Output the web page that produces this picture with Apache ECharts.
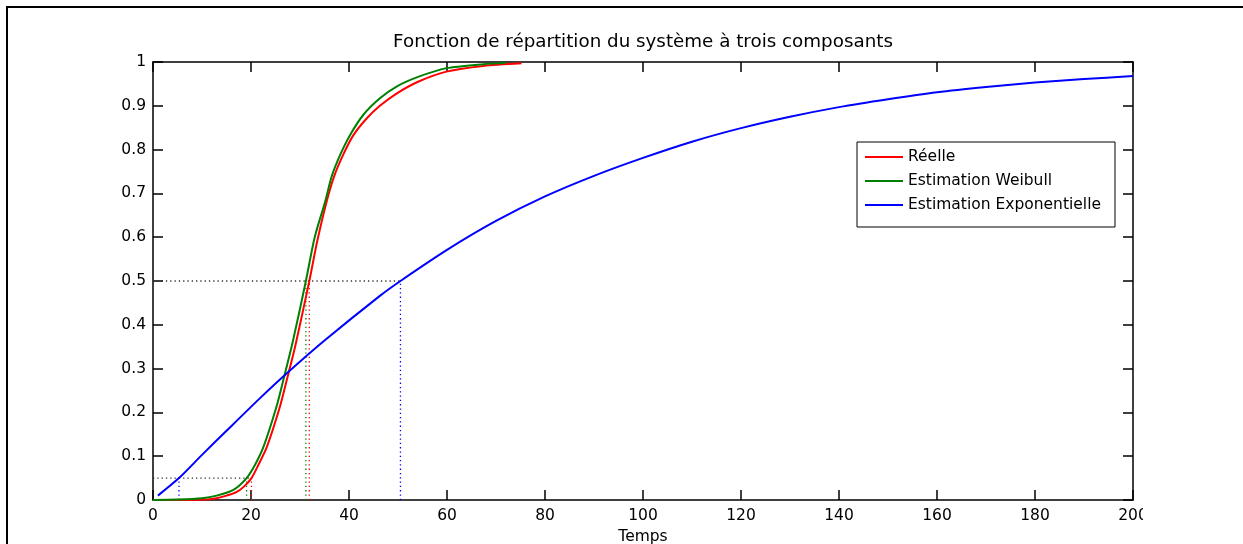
<!DOCTYPE html>
<html>
<head>
<meta charset="utf-8">
<script src="https://cdn.jsdelivr.net/npm/echarts@6/dist/echarts.min.js"></script>
<style>
  html, body { margin: 0; padding: 0; background: #fff; overflow: hidden; }
  #frame { position: absolute; left: 6px; top: 6px; width: 1300px; height: 600px; border: 2px solid #000; }
  #chart { position: absolute; left: 0; top: 0; width: 1143px; height: 544px; }
</style>
</head>
<body>
<div id="frame"></div>
<div id="chart"></div>
<script>
// courbes : [temps, F(t)]
const reelle = [
  [0, 0], [8, 0], [11, 0.001], [13, 0.004], [15, 0.01], [17, 0.018], [18.5, 0.03],
  [20.1, 0.05], [21.5, 0.08], [23.2, 0.12], [25.9, 0.213], [27.3, 0.274], [29, 0.35],
  [31.9, 0.5], [33.5, 0.59], [35.4, 0.68], [37, 0.74], [38.8, 0.788], [40.9, 0.833],
  [43.6, 0.871], [46.3, 0.9], [49.7, 0.928], [54.1, 0.955], [59.9, 0.978],
  [67.4, 0.991], [75.2, 0.997]
]
const weibull = [
  [0, 0], [5, 0.001], [10, 0.004], [13, 0.01], [16.4, 0.023], [19.1, 0.05],
  [20.8, 0.08], [22.5, 0.12], [25.2, 0.213], [26.6, 0.274], [28.5, 0.36], [31.2, 0.5],
  [33, 0.6], [35.1, 0.68], [36.5, 0.74], [38.2, 0.788], [40.2, 0.833], [42.9, 0.879],
  [46.3, 0.917], [49.7, 0.944], [54.1, 0.966], [59.9, 0.986], [67.4, 0.995], [72, 0.998]
]
const exponentielle = [
  [1, 0.01], [5.3, 0.05], [10, 0.103], [15, 0.158], [21.8, 0.232], [27.6, 0.292],
  [35, 0.364], [46.3, 0.466], [50.5, 0.5], [60, 0.571], [70, 0.637], [80, 0.693],
  [90, 0.74], [100, 0.781], [110, 0.818], [120, 0.849], [130, 0.875], [140, 0.897],
  [150, 0.915], [160, 0.931], [170, 0.943], [180, 0.953], [190, 0.961], [200, 0.968]
]

// quantiles marqués en pointillés (réelle, weibull, exponentielle)
const niveaux = [0.05, 0.5]
const quantiles05 = [20.1, 19.1, 5.3]
const quantiles50 = [31.9, 31.2, 50.5]

const noms = ['Réelle', 'Estimation Weibull', 'Estimation Exponentielle']
const couleurs = ['#ff0000', '#008000', '#0000ff']
const titre = 'Fonction de répartition du système à trois composants'

const FONT = '"DejaVu Sans", sans-serif'
const chart = echarts.init(document.getElementById('chart'))

const dotted = (data, color) => ({
  type: 'line', data, silent: true, showSymbol: false, symbol: 'none',
  itemStyle: { color },
  lineStyle: { color, width: 1.3, type: [1.3, 3] }, z: 1
})

const guides = []
;[quantiles05, quantiles50].forEach((qs, k) => {
  const lvl = niveaux[k]
  guides.push(dotted([[0, lvl], [Math.max(...qs), lvl]], '#333'))
  qs.forEach((q, i) => guides.push(dotted([[q, 0], [q, lvl]], couleurs[i])))
})

const courbes = [reelle, weibull, exponentielle].map((d, i) => ({
  name: noms[i], type: 'line', data: d, showSymbol: false, symbol: 'none',
  smooth: 0.25,
  lineStyle: { color: couleurs[i], width: 2 }, itemStyle: { color: couleurs[i] }, z: 3
}))

const axisBase = {
  type: 'value',
  axisLine: { show: true, onZero: false, lineStyle: { color: '#000', width: 1.5 } },
  axisTick: { show: true, inside: true, length: 10, lineStyle: { color: '#000', width: 1.5 } },
  splitLine: { show: false }
}
const labelStyle = { color: '#000', fontSize: 15.5, fontFamily: FONT }

chart.setOption({
  animation: false,
  backgroundColor: 'transparent',
  graphic: [{
    type: 'text', x: 643, y: 42,
    style: { text: titre, fill: '#000', font: '18.3px ' + FONT, align: 'center', verticalAlign: 'middle' }
  }],
  legend: {
    data: noms, orient: 'vertical', left: 857, top: 142,
    icon: 'rect', itemWidth: 38, itemHeight: 2, itemGap: 8,
    padding: [7, 14, 14, 8],
    borderColor: '#000', borderWidth: 1, backgroundColor: '#fff',
    textStyle: { ...labelStyle, lineHeight: 16 }
  },
  grid: { left: 153, right: 10, top: 62, bottom: 44, outerBoundsMode: 'none', containLabel: false },
  xAxis: [
    { ...axisBase, position: 'bottom', min: 0, max: 200, interval: 20,
      axisLabel: { ...labelStyle, margin: 8 },
      name: 'Temps', nameLocation: 'middle', nameGap: 29, nameTextStyle: labelStyle },
    { ...axisBase, position: 'top', min: 0, max: 200, interval: 20, axisLabel: { show: false } }
  ],
  yAxis: [
    { ...axisBase, position: 'left', min: 0, max: 1, interval: 0.1,
      axisLabel: { ...labelStyle, margin: 7 } },
    { ...axisBase, position: 'right', min: 0, max: 1, interval: 0.1, axisLabel: { show: false } }
  ],
  series: [...guides, ...courbes]
})
</script>
</body>
</html>
